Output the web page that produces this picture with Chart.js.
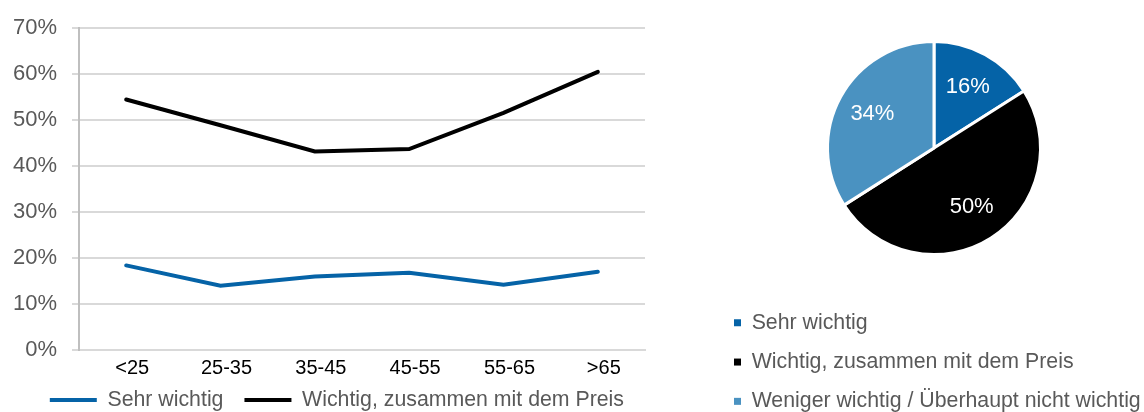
<!DOCTYPE html>
<html lang="de">
<head>
<meta charset="utf-8">
<title>Wichtigkeit nach Alter</title>
<script src="https://cdn.jsdelivr.net/npm/chart.js@4.4.1/dist/chart.umd.min.js"></script>
<style>
  html, body { margin: 0; padding: 0; background: #fff; overflow: hidden; }
  #wrap { position: relative; width: 1144px; height: 412px; overflow: hidden; }
  #lineBox { position: absolute; left: 0; top: 0; }
  #pieBox { position: absolute; left: 675px; top: 0; }
</style>
</head>
<body>
<div id="wrap">
  <div id="lineBox"><canvas id="lineChart" width="675" height="421"></canvas></div>
  <div id="pieBox"><canvas id="pieChart" width="480" height="422"></canvas></div>
</div>
<script>
// Data
const ageGroups = ['<25', '25-35', '35-45', '45-55', '55-65', '>65'];
const sehrWichtig = [18.4, 14.0, 16.0, 16.8, 14.2, 17.0];
const wichtigPreis = [54.5, 48.9, 43.2, 43.7, 51.6, 60.5];
const yMax = 70;
const yStep = 10;

const pieLabels = ['Sehr wichtig', 'Wichtig, zusammen mit dem Preis', 'Weniger wichtig / Überhaupt nicht wichtig'];
const pieValues = [16, 50, 34];

const darkBlue = '#0563a7';
const lightBlue = '#4a92c1';
const gray = '#595959';
const gridGray = '#d9d9d9';

Chart.defaults.font.family = '"Liberation Sans", Arial, sans-serif';
Chart.defaults.animation = false;

// Line chart
new Chart(document.getElementById('lineChart'), {
    type: 'line',
    data: {
        labels: ageGroups,
        datasets: [{
            label: 'Sehr wichtig',
            data: sehrWichtig,
            borderColor: darkBlue,
            backgroundColor: darkBlue,
            borderWidth: 4,
            borderCapStyle: 'round',
            pointRadius: 0,
            tension: 0
        }, {
            label: 'Wichtig, zusammen mit dem Preis',
            data: wichtigPreis,
            borderColor: '#000',
            backgroundColor: '#000',
            borderWidth: 4,
            borderCapStyle: 'round',
            pointRadius: 0,
            tension: 0
        }]
    },
    options: {
        responsive: false,
        layout: { padding: { top: 23, right: 30, bottom: 0.3, left: 0 } },
        scales: {
            x: {
                offset: true,
                grid: { display: false, drawTicks: false, tickLength: 0 },
                border: { display: true, color: gridGray, width: 2 },
                ticks: { color: '#000', padding: 6, labelOffset: 6, font: { size: 20 }, maxRotation: 0 },
                afterFit: (scale) => { scale.height = 30; }
            },
            y: {
                min: 0,
                max: yMax,
                grid: { color: gridGray, lineWidth: 2, tickLength: 7 },
                border: { display: true, color: '#bfbfbf', width: 2 },
                ticks: {
                    stepSize: yStep,
                    color: gray,
                    padding: 15,
                    font: { size: 22 },
                    callback: (v) => v + '%'
                },
                afterFit: (scale) => { scale.width = 79; }
            }
        },
        plugins: {
            legend: {
                position: 'bottom',
                align: 'end',
                // empty title with negative padding pulls the row up
                title: { display: true, text: '', font: { size: 1 }, padding: { top: -12.8, bottom: 0 } },
                labels: {
                    usePointStyle: true,
                    pointStyle: 'line',
                    pointStyleWidth: 47,
                    padding: 21,
                    color: gray,
                    font: { size: 21.3 }
                }
            },
            tooltip: { enabled: false }
        }
    }
});

// Percent labels inside the slices
const sliceLabels = {
    id: 'sliceLabels',
    afterDatasetsDraw(chart) {
        const ctx = chart.ctx;
        const meta = chart.getDatasetMeta(0);
        ctx.save();
        ctx.fillStyle = '#fff';
        ctx.font = '22px "Liberation Sans", Arial, sans-serif';
        ctx.textAlign = 'center';
        ctx.textBaseline = 'middle';
        meta.data.forEach((arc, i) => {
            const p = arc.getProps(['x', 'y', 'startAngle', 'endAngle', 'outerRadius'], true);
            const mid = (p.startAngle + p.endAngle) / 2;
            const r = p.outerRadius * 0.66;
            ctx.fillText(pieValues[i] + '%', p.x + Math.cos(mid) * r, p.y + Math.sin(mid) * r);
        });
        ctx.restore();
    }
};

// Pie chart
new Chart(document.getElementById('pieChart'), {
    type: 'pie',
    data: {
        labels: pieLabels,
        datasets: [{
            data: pieValues,
            backgroundColor: [darkBlue, '#000', lightBlue],
            borderColor: '#fff',
            borderWidth: 3
        }]
    },
    options: {
        responsive: false,
        radius: 106.5,
        layout: { padding: { top: 2, right: 3, bottom: 0, left: 41 } },
        plugins: {
            legend: {
                position: 'bottom',
                align: 'start',
                labels: {
                    boxWidth: 7,
                    boxHeight: 7,
                    padding: 18,
                    color: gray,
                    font: { size: 21.3 },
                    generateLabels(chart) {
                        const base = Chart.overrides.doughnut.plugins.legend.labels.generateLabels(chart);
                        return base.map(item => Object.assign(item, { lineWidth: 0, strokeStyle: 'rgba(0,0,0,0)' }));
                    }
                }
            },
            tooltip: { enabled: false }
        }
    },
    plugins: [sliceLabels]
});
</script>
</body>
</html>
